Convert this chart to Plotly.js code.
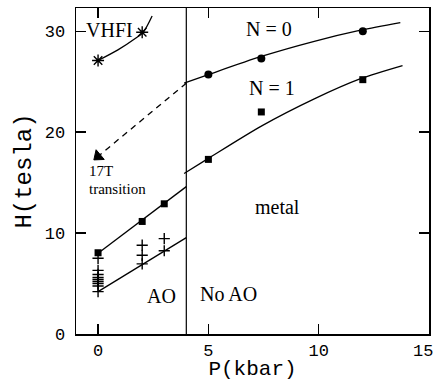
<!DOCTYPE html>
<html>
<head>
<meta charset="utf-8">
<script src="https://cdn.plot.ly/plotly-3.0.1.min.js"></script>
<style>html,body{margin:0;padding:0;background:#fff;}#chart{width:437px;height:381px;}</style>
</head>
<body>
<div id="chart"></div>
<script>
// ---- data ----
const n0P = [5, 7.4, 12];
const n0H = [25.7, 27.3, 30.0];
const n1P = [5, 7.4, 12];
const n1H = [17.3, 22.0, 25.2];
const aoSqP = [0, 2, 3];
const aoSqH = [8.05, 11.15, 12.9];
const plusP = [0, 0, 0, 0, 0, 0, 0, 0, 0, 2, 2, 2, 3, 3];
const plusH = [7.5, 6.3, 5.9, 5.6, 5.4, 5.2, 5.0, 4.75, 4.2, 8.8, 7.8, 6.95, 9.45, 8.25];
const starP = [0, 2.0];
const starH = [27.1, 29.9];
const triP = [0];
const triH = [17.6];
const dashP = [4, 0];
const dashH = [24.85, 17.6];
// fitted guide curves
const fitN0P = [3.9, 5, 7.4, 9.8, 11.9, 13.7];
const fitN0H = [24.85, 25.7, 27.5, 29.0, 30.1, 30.85];
const fitN1P = [3.9, 5, 7.4, 9.8, 11.9, 13.8];
const fitN1H = [15.9, 17.4, 20.6, 23.3, 25.3, 26.6];
const fitSqP = [0, 4];
const fitSqH = [8.0, 14.6];
const fitPlusP = [0, 4];
const fitPlusH = [4.2, 9.55];
const fitStarP = [0, 0.9, 1.7, 2.05, 2.45];
const fitStarH = [27.1, 28.15, 29.3, 29.9, 31.5];
const boundaryP = 4;
const xTicks = [0, 5, 10, 15];
// the last tick label sits at the right edge; it is drawn as an edge-aligned label below
const xTickText = ['0', '5', '10', ''];
const xEdgeLabel = '15';
const yTicks = [0, 10, 20, 30];

const K = '#000';
const lineStyle = {color: K, width: 1.3};
const traces = [
  {x: fitN0P, y: fitN0H, mode: 'lines', line: Object.assign({shape: 'spline', smoothing: 0.8}, lineStyle), hoverinfo: 'skip'},
  {x: fitN1P, y: fitN1H, mode: 'lines', line: Object.assign({shape: 'spline', smoothing: 0.8}, lineStyle), hoverinfo: 'skip'},
  {x: fitSqP, y: fitSqH, mode: 'lines', line: lineStyle, hoverinfo: 'skip'},
  {x: fitPlusP, y: fitPlusH, mode: 'lines', line: lineStyle, hoverinfo: 'skip'},
  {x: fitStarP, y: fitStarH, mode: 'lines', line: Object.assign({shape: 'spline', smoothing: 0.8}, lineStyle), hoverinfo: 'skip'},
  {x: dashP, y: dashH, mode: 'lines', line: {color: K, width: 1.3, dash: '6px,5px'}, hoverinfo: 'skip'},
  {x: triP, y: triH, mode: 'markers', marker: {symbol: 'triangle-up', size: 11, angle: -130, color: K, line: {color: K, width: 1}}},
  {x: n0P, y: n0H, mode: 'markers', marker: {symbol: 'circle', size: 8, color: K}},
  {x: n1P, y: n1H, mode: 'markers', marker: {symbol: 'square', size: 7, color: K}},
  {x: aoSqP, y: aoSqH, mode: 'markers', marker: {symbol: 'square', size: 7, color: K}},
  {x: plusP, y: plusH, mode: 'markers', marker: {symbol: 'cross-thin-open', size: 8, color: K, line: {color: K, width: 1.4}}},
  {x: starP, y: starH, mode: 'markers', marker: {symbol: 'asterisk-open', size: 10, color: K, line: {color: K, width: 1.4}}}
];

const serif = 'Liberation Serif';
const axisFont = 'Liberation Mono';
function ann(text, x, y, size, xanchor) {
  return {text: text, x: x, y: y, xref: 'x', yref: 'y', showarrow: false,
          xanchor: xanchor || 'center', yanchor: 'middle',
          font: {family: serif, size: size, color: K}};
}

const layout = {
  width: 437, height: 381,
  margin: {l: 76, r: 8, t: 8, b: 47},
  paper_bgcolor: '#fff', plot_bgcolor: '#fff',
  showlegend: false,
  xaxis: {
    range: [-1, 15], tickvals: xTicks, ticktext: xTickText,
    ticks: 'inside', ticklen: 10, tickwidth: 1.3, tickcolor: K,
    showline: true, linecolor: K, linewidth: 1.5, mirror: 'ticks',
    showgrid: false, zeroline: false,
    tickfont: {family: axisFont, size: 17, color: K},
    title: {text: 'P(kbar)', font: {family: axisFont, size: 21, color: K}, standoff: 4}
  },
  yaxis: {
    range: [0, 32.3], tickvals: yTicks, ticktext: yTicks.map(String),
    ticks: 'inside', ticklen: 10, tickwidth: 1.3, tickcolor: K,
    showline: true, linecolor: K, linewidth: 1.5, mirror: 'ticks',
    showgrid: false, zeroline: false, ticklabelstandoff: 6,
    tickfont: {family: axisFont, size: 17, color: K},
    title: {text: 'H(tesla)', font: {family: axisFont, size: 24, color: K}, standoff: 6}
  },
  shapes: [
    {type: 'line', xref: 'x', yref: 'paper', x0: boundaryP, x1: boundaryP, y0: 0, y1: 1,
     line: {color: K, width: 1.2}}
  ],
  annotations: [
    ann('VHFI', 0.5, 30.1, 20),
    ann('N = 0', 7.73, 30.25, 20),
    ann('N = 1', 7.89, 24.4, 20),
    ann('metal', 8.14, 12.6, 20),
    ann('AO', 2.86, 3.72, 20),
    ann('No AO', 5.9, 3.98, 20),
    ann('17T', -0.5, 16.2, 15, 'left'),
    ann('transition', -0.5, 14.4, 15, 'left'),
    {text: xEdgeLabel, x: 1, y: 0, xref: 'paper', yref: 'paper', xanchor: 'right', yanchor: 'top',
     xshift: 5, yshift: -7, showarrow: false, borderpad: 0,
     font: {family: axisFont, size: 17, color: K}}
  ]
};

Plotly.newPlot('chart', traces, layout, {displayModeBar: false, staticPlot: true});
</script>
</body>
</html>
